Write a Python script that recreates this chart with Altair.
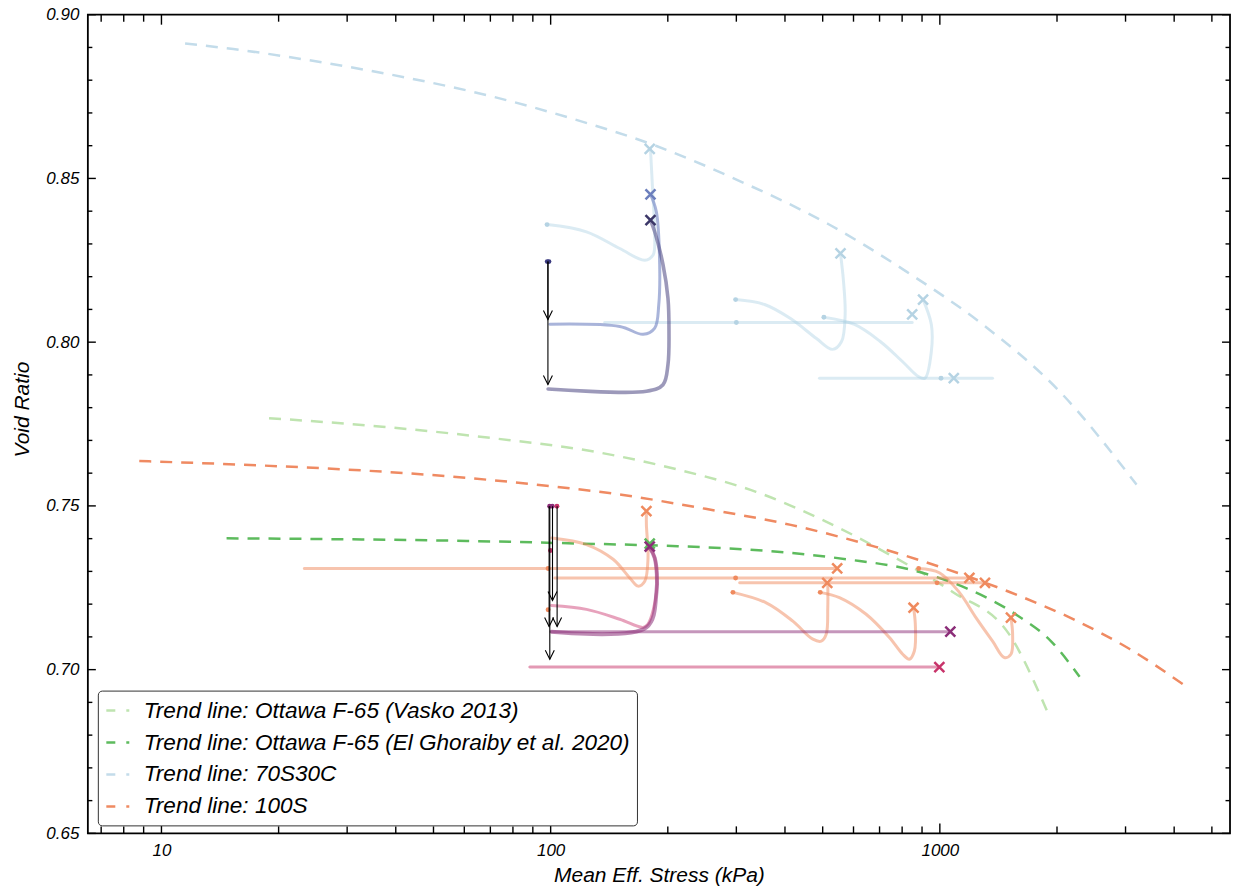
import altair as alt
import pandas as pd

# ---------------- axes ----------------
X_DOMAIN = [6.47, 5566]
Y_DOMAIN = [0.65, 0.90]
X_MAJOR = [10, 100, 1000]
X_MINOR = [7, 8, 9, 20, 30, 40, 50, 60, 70, 80, 90, 200, 300, 400, 500, 600, 700,
           800, 900, 2000, 3000, 4000, 5000]
Y_MAJOR = [0.65, 0.70, 0.75, 0.80, 0.85, 0.90]
Y_MINOR = [0.66, 0.67, 0.68, 0.69, 0.71, 0.72, 0.73, 0.74, 0.76, 0.77, 0.78, 0.79,
           0.81, 0.82, 0.83, 0.84, 0.86, 0.87, 0.88, 0.89]

# ---------------- trend lines (kPa, void ratio) ----------------
TREND_NAMES = ["Trend line: Ottawa F-65 (Vasko 2013)",
               "Trend line: Ottawa F-65 (El Ghoraiby et al. 2020)",
               "Trend line: 70S30C",
               "Trend line: 100S"]
VASKO_P = [18.9, 36.9, 72.0, 129.1, 212, 337, 510, 743, 1079, 1511, 1882]
VASKO_E = [0.7768, 0.7742, 0.7706, 0.7666, 0.7611, 0.7543, 0.7452, 0.7351, 0.7237, 0.7106, 0.6876]
ELG_P = [14.7, 30.0, 61.0, 118.8, 212, 365, 576, 843, 1172, 1575, 1937, 2286]
ELG_E = [0.7401, 0.7398, 0.7393, 0.7385, 0.7377, 0.7362, 0.7337, 0.7305, 0.7248, 0.7167, 0.7085, 0.6978]
C70_P = [11.5, 15.3, 26.0, 42.5, 69.8, 114, 187, 306, 518, 817, 1288, 2033, 3201]
C70_E = [0.8912, 0.8895, 0.8854, 0.8808, 0.8752, 0.8682, 0.8599, 0.8492, 0.8360, 0.8217, 0.8054, 0.7849, 0.7565]
S100_P = [8.77, 16.0, 30.0, 56.2, 92.0, 152, 250, 414, 684, 1035, 1511, 2193, 3074, 4208]
S100_E = [0.7637, 0.7626, 0.7611, 0.7589, 0.7565, 0.7534, 0.7491, 0.7442, 0.7375, 0.7308, 0.7237, 0.7155, 0.7063, 0.6956]

# ---------------- 70S30C test paths ----------------
LB_A_P = [97.9, 123.6, 150.5, 174.5, 183.3, 185.1, 182.9, 180.5]
LB_A_E = [0.8359, 0.8337, 0.8286, 0.8250, 0.8266, 0.8328, 0.8459, 0.8590]
LB_B_P = [137.7, 848.8]
LB_B_E = [0.8060, 0.8060]
LB_C_P = [298.7, 354.5, 413.4, 482, 530, 559, 571, 565.6, 555.5]
LB_C_E = [0.8130, 0.8115, 0.8072, 0.8011, 0.7978, 0.8002, 0.8084, 0.8185, 0.8271]
LB_D_P = [503.6, 603.5, 702.9, 801.4, 880.9, 915.7, 951, 951, 905.5]
LB_D_E = [0.8076, 0.8054, 0.8002, 0.7941, 0.7895, 0.7890, 0.7972, 0.8054, 0.8130]
LB_E_P = [490.5, 1366]
LB_E_E = [0.7890, 0.7890]
MB_P = [99.5, 150.5, 172.8, 185.1, 189.6, 190.6, 186.9, 180.5]
MB_E = [0.8055, 0.8048, 0.8024, 0.8043, 0.8115, 0.8237, 0.8398, 0.8451]
DB_P = [98.5, 176.3, 194.4, 200.2, 201.4, 200.2, 194.4, 185.1, 180.5]
DB_E = [0.7857, 0.7850, 0.7870, 0.7932, 0.8033, 0.8134, 0.8237, 0.8337, 0.8373]

# ---------------- 100S test paths ----------------
OR_A_P = [23.3, 544.8]
OR_A_E = [0.7309, 0.7309]
OR_B_P = [102.5, 1191]
OR_B_E = [0.7280, 0.7280]
OR_C_P = [305.9, 1306]
OR_C_E = [0.7265, 0.7265]
OR_D_P = [100.7, 123.6, 144.7, 159.7, 167.7, 174.5, 177.9, 176.2, 176.2]
OR_D_E = [0.7402, 0.7382, 0.7337, 0.7280, 0.7255, 0.7270, 0.7341, 0.7443, 0.7484]
OR_E_P = [294, 358.1, 419, 471.7, 495.7, 510.5, 515.3, 515.3]
OR_E_E = [0.7236, 0.7204, 0.7148, 0.7093, 0.7087, 0.7108, 0.7189, 0.7265]
OR_F_P = [492.8, 552.2, 646.6, 742, 802.6, 835, 860, 865, 856]
OR_F_E = [0.7236, 0.7220, 0.7169, 0.7098, 0.7047, 0.7032, 0.7057, 0.7138, 0.7189]
OR_G_P = [882, 997, 1122, 1238, 1366, 1464, 1523, 1538, 1523]
OR_G_E = [0.7309, 0.7296, 0.7236, 0.7159, 0.7087, 0.7037, 0.7047, 0.7108, 0.7159]

# ---------------- Ottawa F-65 test paths ----------------
PU_A_P = [100.5, 1064]
PU_A_E = [0.7116, 0.7116]
PU_B_P = [100.5, 176.2, 187, 185.1, 179.7]
PU_B_E = [0.7116, 0.7129, 0.7236, 0.7341, 0.7372]
PK_P = [100.5, 123.6, 150.5, 172.8, 177.9, 187, 185.1, 179.7]
PK_E = [0.7196, 0.7184, 0.7154, 0.7129, 0.7139, 0.7236, 0.7341, 0.7372]
CR_P = [88.4, 997]
CR_E = [0.7008, 0.7008]

# ---------------- start points (dots) and end points (crosses) ----------------
DOT_LB_P = [97.9, 300, 298.7, 503.6, 1007]
DOT_LB_E = [0.8359, 0.8060, 0.8130, 0.8076, 0.7890]
DOT_NV_P = [98.0, 99.0]
DOT_NV_E = [0.8246, 0.8246]
DOT_OR_P = [98.5, 98.5, 298.7, 983.5, 294, 492.8, 882]
DOT_OR_E = [0.7309, 0.7183, 0.7280, 0.7265, 0.7236, 0.7236, 0.7309]
DOT_PU_P = [99.4, 101.0]
DOT_PU_E = [0.7499, 0.7499]
DOT_CR_P = [103.8, 99.9]
DOT_CR_E = [0.7499, 0.7364]

X_LB_P = [179.7, 849, 555.5, 905.5, 1086]
X_LB_E = [0.8590, 0.8085, 0.8271, 0.8130, 0.7890]
X_MB_P = [180.5]
X_MB_E = [0.8451]
X_DB_P = [180.5]
X_DB_E = [0.8373]
X_OR_P = [176.2, 544.8, 1191, 1306, 513.7, 856, 1523]
X_OR_E = [0.7484, 0.7309, 0.7280, 0.7265, 0.7265, 0.7189, 0.7159]
X_GR_P = [179.7]
X_GR_E = [0.7385]
X_PU_P = [1064, 179.7]
X_PU_E = [0.7116, 0.7376]
X_CR_P = [997]
X_CR_E = [0.7008]

# ---------------- consolidation arrows ----------------
ARROW_P = [98.4, 98.4, 101.1, 99.1, 103.9, 99.5]
ARROW_FROM = [0.8246, 0.8246, 0.7499, 0.7499, 0.7499, 0.7499]
ARROW_TO = [0.8069, 0.7871, 0.7211, 0.7132, 0.7132, 0.7032]

# ---------------- layout / style ----------------
W, H = 1144, 820
FONT = "Liberation Sans"
TREND_COLORS = ["#bfe4b0", "#5dbb5d", "#c3dcea", "#ef8a62"]
DASH = [12, 9]

xs = alt.Scale(type="log", domain=X_DOMAIN, nice=False)
ys = alt.Scale(domain=Y_DOMAIN, nice=False, zero=False)

# the same axis definitions are attached to every layer so they merge cleanly
X_AXIS = alt.Axis(values=X_MAJOR, format="d", title="Mean Eff. Stress (kPa)",
                  ticks=False, tickSize=0, domain=False, grid=False,
                  labelFontSize=17, labelFontStyle="italic", labelPadding=9,
                  labelColor="black", labelFlush=False,
                  titleFontSize=21, titleFontStyle="italic", titleFontWeight="normal",
                  titleColor="black", titlePadding=6)
Y_AXIS = alt.Axis(values=Y_MAJOR, format=".2f", title="Void Ratio",
                  ticks=False, tickSize=0, domain=False, grid=False,
                  labelFontSize=17, labelFontStyle="italic", labelPadding=9,
                  labelColor="black", labelFlush=False,
                  titleFontSize=21, titleFontStyle="italic", titleFontWeight="normal",
                  titleColor="black", titlePadding=13, titleY=395)


def xenc(field="p"):
    return alt.X(f"{field}:Q", scale=xs, axis=X_AXIS)


def yenc(field="e"):
    return alt.Y(f"{field}:Q", scale=ys, axis=Y_AXIS)


def paths(series):
    rows = []
    for name, (ps, es) in series.items():
        for i, (p, e) in enumerate(zip(ps, es)):
            rows.append({"series": name, "i": i, "p": p, "e": e})
    return pd.DataFrame(rows)


def points(ps, es):
    return pd.DataFrame({"p": ps, "e": es})


trend_df = paths({
    TREND_NAMES[0]: (VASKO_P, VASKO_E),
    TREND_NAMES[1]: (ELG_P, ELG_E),
    TREND_NAMES[2]: (C70_P, C70_E),
    TREND_NAMES[3]: (S100_P, S100_E),
})

legend = alt.Legend(title=None, orient="none", legendX=10, legendY=677,
                    symbolType="stroke", symbolDash=[9, 11], symbolStrokeWidth=2.5,
                    symbolSize=529, labelFontSize=22.6, labelFontStyle="italic",
                    labelFont=FONT, labelColor="black", labelLimit=0, labelOffset=13,
                    fillColor="white", strokeColor="#333333", cornerRadius=4,
                    padding=7, rowPadding=7)

trend = alt.Chart(trend_df).mark_line(strokeWidth=2.5, strokeDash=DASH, interpolate="monotone").encode(
    x=xenc(), y=yenc(),
    color=alt.Color("series:N", scale=alt.Scale(domain=TREND_NAMES, range=TREND_COLORS), legend=legend),
    order="i:Q",
)


def path_layer(series, color, opacity, width=3.0):
    return alt.Chart(paths(series)).mark_line(
        color=color, opacity=opacity, strokeWidth=width, interpolate="catmull-rom",
        strokeCap="round", strokeJoin="round",
    ).encode(x=xenc(), y=yenc(), detail="series:N", order="i:Q")


light_blue = path_layer({"a": (LB_A_P, LB_A_E), "b": (LB_B_P, LB_B_E), "c": (LB_C_P, LB_C_E),
                         "d": (LB_D_P, LB_D_E), "e": (LB_E_P, LB_E_E)}, "#a6cde0", 0.4)
mid_blue = path_layer({"m": (MB_P, MB_E)}, "#6f82c2", 0.6)
dark_blue = path_layer({"d": (DB_P, DB_E)}, "#4b4682", 0.55, 3.6)
orange = path_layer({"a": (OR_A_P, OR_A_E), "b": (OR_B_P, OR_B_E), "c": (OR_C_P, OR_C_E),
                     "d": (OR_D_P, OR_D_E), "e": (OR_E_P, OR_E_E), "f": (OR_F_P, OR_F_E),
                     "g": (OR_G_P, OR_G_E)}, "#ef8a5e", 0.5)
pink = path_layer({"k": (PK_P, PK_E)}, "#d0457a", 0.5)
crimson = path_layer({"c": (CR_P, CR_E)}, "#c8336a", 0.5)
purple_h = path_layer({"a": (PU_A_P, PU_A_E)}, "#8b2d78", 0.5)
purple_v = path_layer({"b": (PU_B_P, PU_B_E)}, "#8b2d78", 0.55, 4.0)


def dot_layer(ps, es, color):
    return alt.Chart(points(ps, es)).mark_point(
        shape="circle", filled=True, size=24, color=color, opacity=1,
    ).encode(x=xenc(), y=yenc())


CROSS = "M-1,-1L1,1M-1,1L1,-1"


def cross_layer(ps, es, color):
    return alt.Chart(points(ps, es)).mark_point(
        shape=CROSS, filled=False, size=100, stroke=color, strokeWidth=2.5, opacity=1,
    ).encode(x=xenc(), y=yenc())


arrow_df = pd.DataFrame({"p": ARROW_P, "e": ARROW_FROM, "e2": ARROW_TO})
arrow_shaft = alt.Chart(arrow_df).mark_rule(color="black", strokeWidth=1.1).encode(
    x=xenc(), y=yenc(), y2="e2:Q")
arrow_head = alt.Chart(arrow_df).mark_point(
    shape="M-1,-2L0,0L1,-2", filled=False, size=81, stroke="black", strokeWidth=1.1, opacity=1,
).encode(x=xenc(), y=yenc("e2"))


def tick_layer(vals, side, length):
    base = alt.Chart(pd.DataFrame({"v": vals})).mark_rule(color="black", strokeWidth=1.4)
    if side in ("bottom", "top"):
        enc = dict(x=xenc("v"))
        if side == "bottom":
            enc.update(y=alt.value(H), y2=alt.value(H - length))
        else:
            enc.update(y=alt.value(0), y2=alt.value(length))
    else:
        enc = dict(y=yenc("v"))
        if side == "left":
            enc.update(x=alt.value(0), x2=alt.value(length))
        else:
            enc.update(x=alt.value(W), x2=alt.value(W - length))
    return base.encode(**enc)


ticks = [
    tick_layer(X_MAJOR, "bottom", 10), tick_layer(X_MINOR, "bottom", 7),
    tick_layer(X_MAJOR, "top", 10), tick_layer(X_MINOR, "top", 7),
    tick_layer(Y_MAJOR, "left", 8), tick_layer(Y_MINOR, "left", 4.5),
    tick_layer(Y_MAJOR, "right", 8), tick_layer(Y_MINOR, "right", 4.5),
]

chart = alt.layer(
    trend,
    light_blue, mid_blue, dark_blue, orange, pink, crimson, purple_h, purple_v,
    dot_layer(DOT_LB_P, DOT_LB_E, "#b5d3e3"),
    dot_layer(DOT_NV_P, DOT_NV_E, "#3b3b80"),
    dot_layer(DOT_OR_P, DOT_OR_E, "#ef8a5e"),
    dot_layer(DOT_PU_P, DOT_PU_E, "#8b2d78"),
    dot_layer(DOT_CR_P, DOT_CR_E, "#c8336a"),
    cross_layer(X_LB_P, X_LB_E, "#b5d3e3"),
    cross_layer(X_MB_P, X_MB_E, "#6c7fbd"),
    cross_layer(X_DB_P, X_DB_E, "#3b3768"),
    cross_layer(X_OR_P, X_OR_E, "#ef8a5e"),
    cross_layer(X_GR_P, X_GR_E, "#5cb85c"),
    cross_layer(X_PU_P, X_PU_E, "#8b2d78"),
    cross_layer(X_CR_P, X_CR_E, "#c8336a"),
    arrow_shaft, arrow_head,
    *ticks,
).properties(
    width=W, height=H,
    padding={"left": 11, "top": 5, "right": 4, "bottom": 4},
    background="white",
).configure_view(
    stroke="black", strokeWidth=1.8,
).configure_axis(
    labelFont=FONT, titleFont=FONT,
)

chart.save("out.html", embed_options={"renderer": "svg", "actions": False})
